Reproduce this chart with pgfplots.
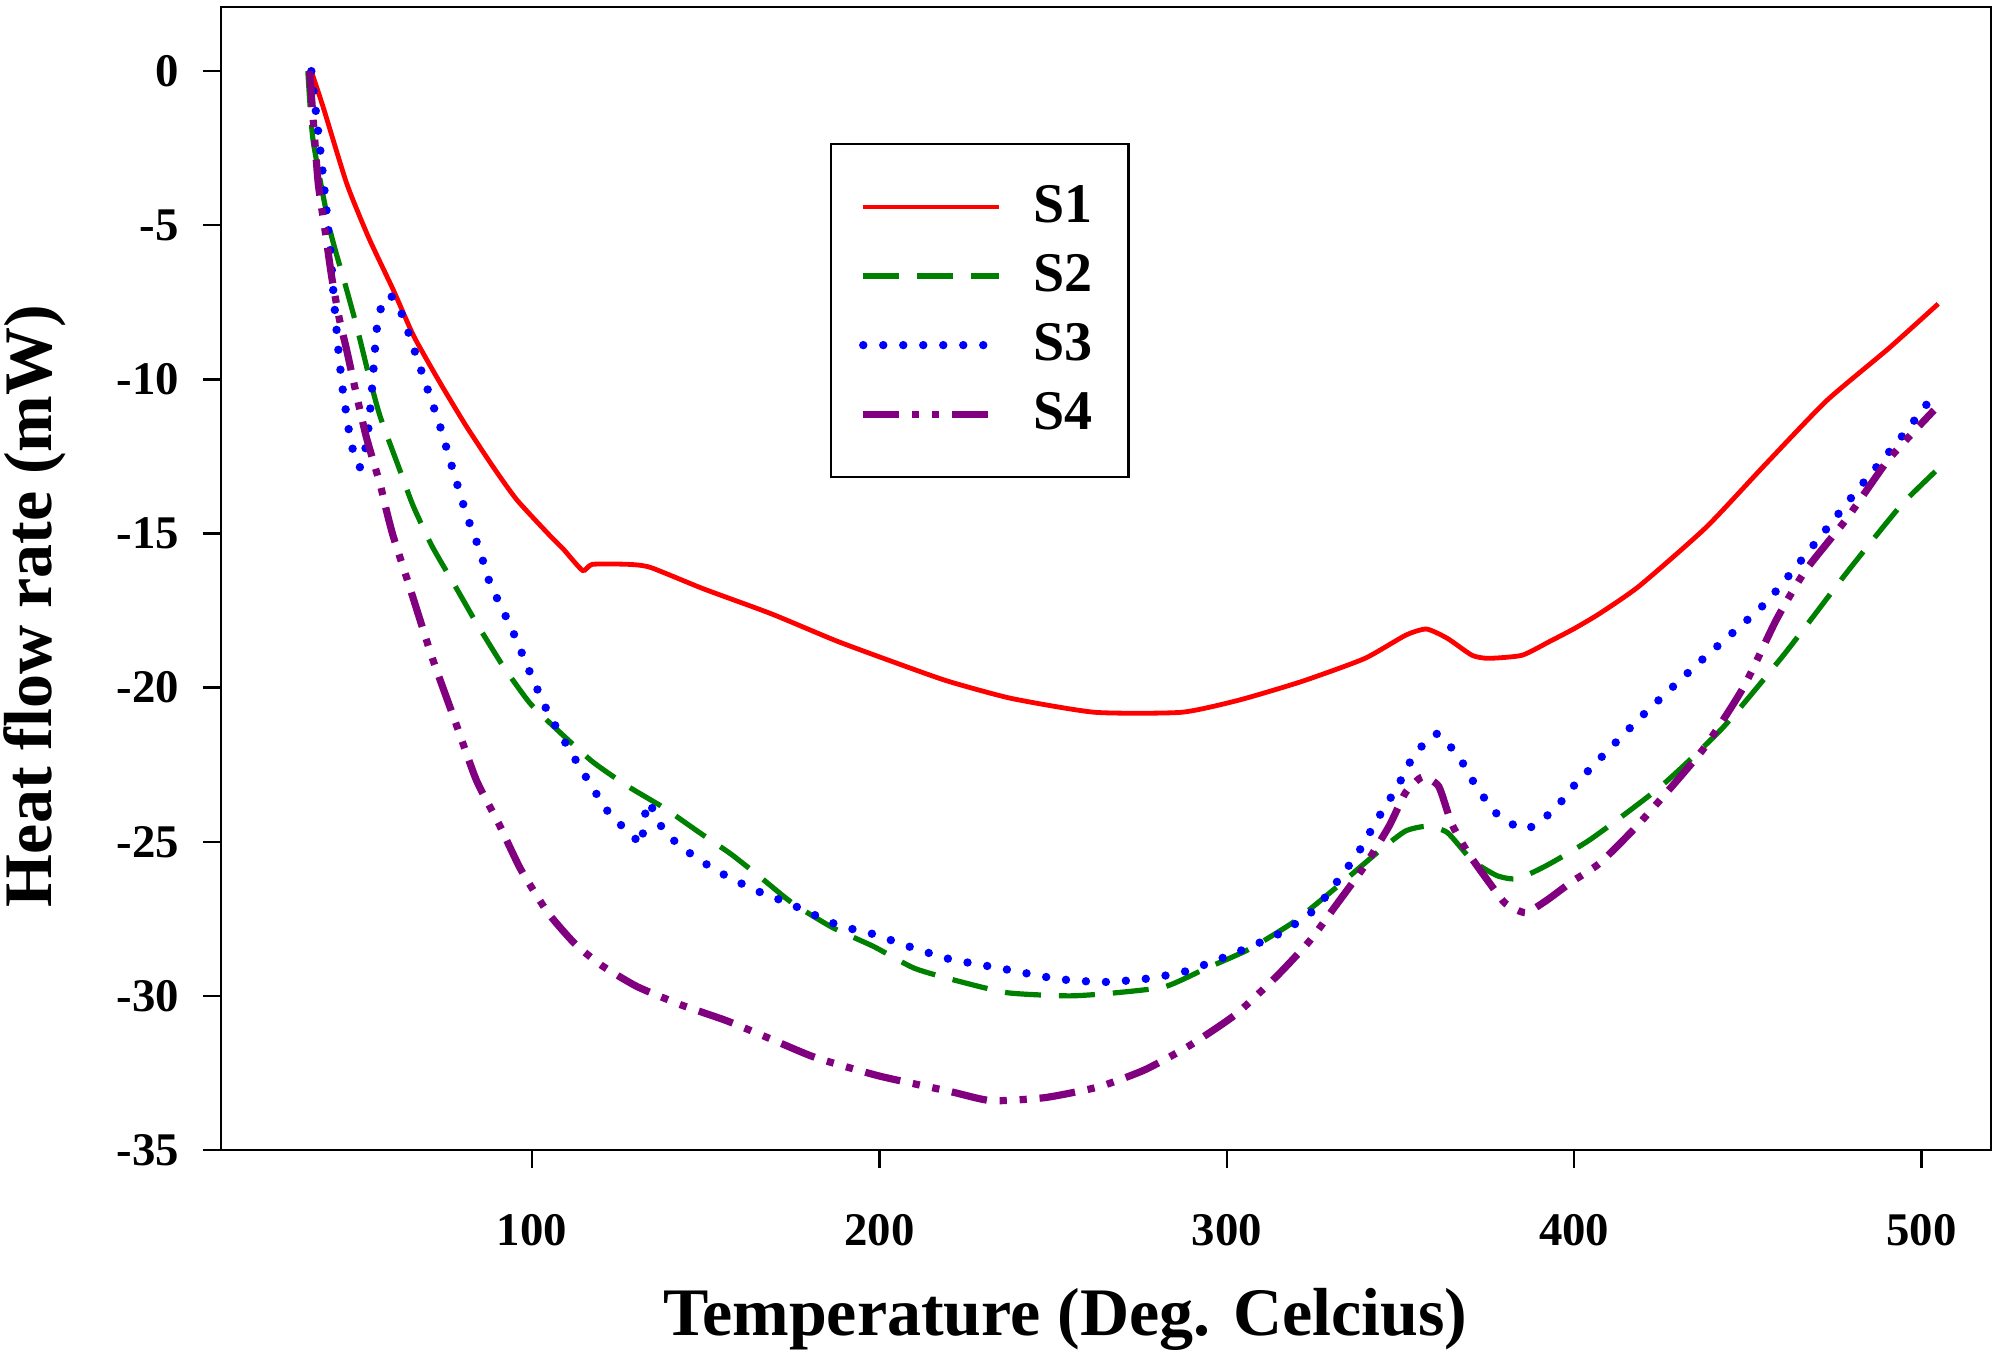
\documentclass[border=0pt]{standalone}
\usepackage{fontspec}
\setmainfont{Liberation Serif}
\usepackage{pgfplots}
\pgfplotsset{compat=1.18}
\definecolor{sred}{RGB}{255,0,0}
\definecolor{sgreen}{RGB}{0,128,0}
\definecolor{sblue}{RGB}{0,0,255}
\definecolor{spurple}{RGB}{128,0,128}
\begin{document}
\begin{tikzpicture}
\begin{axis}[
  scale only axis,
  width=442.5pt, height=285.75pt,
  xmin=10.5, xmax=520, ymin=-35, ymax=2.08,
  xtick={100,200,300,400,500},
  xticklabels={100,200,300,400,500},
  ytick={-35,-30,-25,-20,-15,-10,-5,0},
  yticklabels={-35,-30,-25,-20,-15,-10,-5,0},
  tick pos=left, tick align=outside, major tick length=4.5pt,
  axis line style={line width=0.6pt},
  tick style={line width=0.6pt, black},
  ticklabel style={font=\fontsize{11.7}{12}\selectfont\bfseries},
  xticklabel style={yshift=-8pt},
  yticklabel style={xshift=-2.5pt},
  xlabel={Temperature (Deg. Celcius)},
  ylabel={Heat flow rate (mW)},
  label style={font=\fontsize{17}{18}\selectfont\bfseries},
  xlabel style={at={(axis description cs:0.477,-0.1627)}, anchor=base},
  ylabel style={at={(axis description cs:-0.0955,0.476)}, anchor=base},
  legend style={at={(axis description cs:0.344,0.881)}, anchor=north west,
    draw=black, line width=0.6pt, inner xsep=7pt, inner ysep=8.3pt,
    row sep=2.5pt, column sep=5.5pt,
    font=\fontsize{14}{15}\selectfont\bfseries},
  legend cell align=left,
  legend image code/.code={\draw[#1] (0pt,0pt) -- (34pt,0pt);},
  every axis plot/.append style={smooth, tension=0.35},
]
\addplot[sred, line width=1.2pt] coordinates {
(36.5,0) (40,-1.2) (46.7,-3.65) (53,-5.4) (60.1,-7.1) (66,-8.6) (73.5,-10.1)
(81,-11.5) (88.9,-12.85) (95.6,-13.9) (104.6,-15.0) (109,-15.5) (114.6,-16.2)
(117.4,-16.0) (127.6,-16.0) (134.1,-16.1) (149.5,-16.8) (168.8,-17.6) (188,-18.5)
(207.3,-19.3) (220,-19.8) (238,-20.35) (262,-20.8) (287,-20.8) (303.7,-20.4)
(321.6,-19.8) (339.6,-19.06) (351.5,-18.3) (357.5,-18.1) (363.5,-18.4)
(370.6,-18.95) (375.4,-19.05) (385,-18.95) (393,-18.5) (399.8,-18.1)
(407.3,-17.6) (418.8,-16.7) (438,-14.8) (454.7,-12.8) (472.6,-10.7) (490.5,-9.0)
(504.8,-7.55)
};
\addlegendentry{S1}
\addplot[sgreen, line width=1.3pt, dash pattern=on 9pt off 4.5pt] coordinates {
(35.5,0) (37,-2.24) (41.9,-5.16) (46.2,-6.9) (49.6,-8.3) (52.9,-9.8) (56.3,-11.2)
(62,-12.95) (65.8,-14.1) (71.2,-15.4) (78.9,-16.9) (84,-17.9) (91.7,-19.3)
(99.4,-20.5) (107.1,-21.35) (117.4,-22.4) (127.6,-23.2) (138,-23.9) (148.2,-24.7)
(157.3,-25.4) (166.3,-26.2) (175.1,-27.0) (186.8,-27.8) (198.4,-28.4) (210,-29.1)
(222,-29.5) (237,-29.9) (254.8,-30.0) (268,-29.9) (282.3,-29.7) (294.2,-29.1)
(306.2,-28.5) (319.3,-27.6) (332.4,-26.4) (344.4,-25.25) (351.5,-24.65)
(357.5,-24.5) (363.5,-24.7) (370.6,-25.6) (377.8,-26.1) (383.7,-26.2)
(392.4,-25.75) (405,-24.9) (425,-23.2) (442.8,-21.3) (460.6,-18.9) (478.6,-16.25)
(494,-14.1) (504.8,-12.9)
};
\addlegendentry{S2}
\addplot[sblue, line width=2.1pt, line cap=round, dash pattern=on 0pt off 5pt] coordinates {
(36.5,0) (38,-1.5) (39.5,-3) (41.9,-5.7) (43,-7.4) (44.3,-9.06) (45.5,-10.3)
(46.7,-11.2) (48,-12.1) (50.5,-12.85) (52.5,-12.0) (53.9,-10.4) (55.3,-8.4)
(57,-7.5) (59.1,-7.27) (61.5,-7.6) (63.9,-8.3) (68.7,-9.9) (73.5,-11.5)
(76.9,-12.8) (81.2,-14.4) (85,-15.55) (87.9,-16.6) (94.2,-18.1) (99.4,-19.5)
(104.6,-20.8) (109.7,-21.8) (116.1,-23.0) (122.4,-24.1) (129,-24.8) (131.5,-25.1)
(132.2,-24.4) (133.5,-23.7) (136.7,-24.4) (139.2,-24.8) (147,-25.5) (155.8,-26.1)
(164.9,-26.6) (174,-27.0) (188,-27.7) (198.4,-28.0) (208.6,-28.4) (220,-28.8)
(234.6,-29.1) (251.3,-29.45) (264.4,-29.55) (276.4,-29.45) (288.3,-29.2)
(302.6,-28.6) (315.7,-27.95) (325.3,-27.2) (332.4,-26.2) (338.4,-25.25)
(343.2,-24.3) (349.2,-23.2) (353.9,-22.2) (360.5,-21.5) (367.1,-22.3)
(371.8,-23.2) (377.8,-24.1) (386,-24.6) (394.4,-23.95) (399.8,-23.2)
(418.8,-21.0) (436.8,-19.1) (454.7,-17.3) (466.6,-15.7) (482.2,-13.5)
(494,-11.9) (503.6,-10.5)
};
\addlegendentry{S3}
\addplot[spurple, line width=1.8pt, dash pattern=on 9pt off 3.2pt on 1.8pt off 3.2pt on 1.8pt off 3.2pt] coordinates {
(36,0) (37,-1.5) (38.5,-3.65) (40.5,-5.2) (42.4,-6.7) (44.5,-8.0) (46.7,-9.06)
(49.5,-10.5) (52.4,-11.9) (56.3,-13.4) (58,-14.2) (60.1,-15.1) (64.7,-16.7)
(71.2,-19.0) (77.6,-21.0) (84,-23.0) (90.4,-24.4) (96.8,-25.9) (104.6,-27.3)
(112.3,-28.3) (119.9,-29.0) (130.3,-29.7) (143.1,-30.3) (155.9,-30.8)
(168.8,-31.4) (181.6,-32.0) (200,-32.6) (220.3,-33.1) (232.2,-33.4)
(247.7,-33.3) (263.2,-32.95) (276.4,-32.4) (289.5,-31.6) (302.6,-30.6)
(314.5,-29.35) (324,-28.2) (331.2,-27.1) (339.6,-25.8) (346.7,-24.5)
(351.5,-23.4) (356.3,-22.9) (361,-23.2) (364.7,-24.4) (369.4,-25.35)
(375.4,-26.3) (380.2,-27.0) (386,-27.3) (392.1,-26.9) (399.3,-26.3)
(407.3,-25.7) (418.8,-24.4) (436.8,-22.05) (448.7,-20.0) (458.2,-17.8)
(466.6,-16.2) (478.6,-14.5) (490.5,-12.6) (503.6,-11.0)
};
\addlegendentry{S4}
\end{axis}
\pgfresetboundingbox
\path ([xshift=-55.25pt, yshift=-53pt]current axis.south west) rectangle ([xshift=3.25pt, yshift=1.75pt]current axis.north east);
\end{tikzpicture}
\end{document}
